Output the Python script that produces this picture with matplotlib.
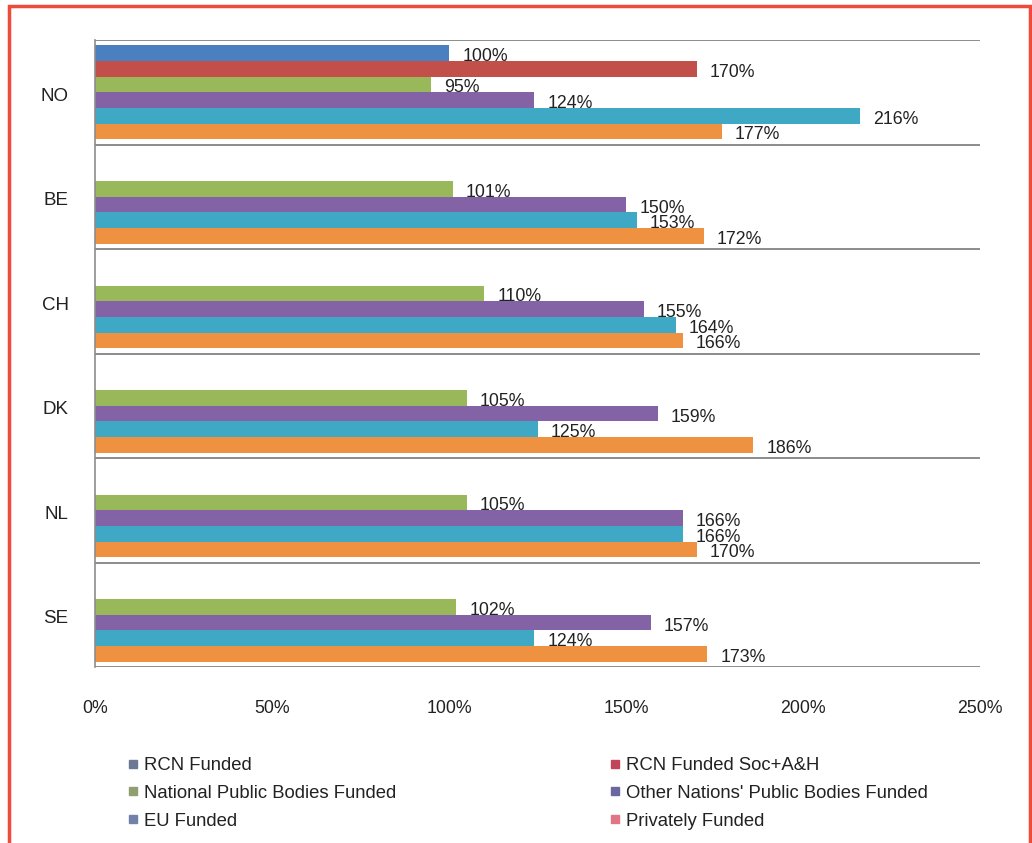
import matplotlib
matplotlib.use("Agg")
import matplotlib.pyplot as plt
from matplotlib.lines import Line2D
from matplotlib.patches import Rectangle

plt.rcParams['font.family'] = ['Liberation Sans', 'DejaVu Sans']

# data (values in %)
countries = ['NO', 'BE', 'CH', 'DK', 'NL', 'SE']
series = ['RCN Funded', 'RCN Funded Soc+A&H', 'National Public Bodies Funded',
          "Other Nations' Public Bodies Funded", 'EU Funded', 'Privately Funded']
rcn = [100, None, None, None, None, None]
rcn_soc = [170, None, None, None, None, None]
national = [95, 101, 110, 105, 105, 102]
other_nations = [124, 150, 155, 159, 166, 157]
eu = [216, 153, 164, 125, 166, 124]
private = [177, 172, 166, 186, 170, 173]
values = [rcn, rcn_soc, national, other_nations, eu, private]

bar_colors = ['#4a7fc0', '#c24f4a', '#98b85a', '#8363a6', '#3fa8c4', '#ee9242']
legend_colors = ['#6b7893', '#c0455a', '#909f70', '#6c679e', '#7281aa', '#e27585']
xticks = [0, 50, 100, 150, 200, 250]

fig = plt.figure(figsize=(10.32, 8.43), dpi=100)
ax = fig.add_axes([95 / 1032, 1 - 667 / 843, 885 / 1032, 627 / 843])

bar_h = 0.15
top_pad = 0.05
for k, (vals, col) in enumerate(zip(values, bar_colors)):
    for i, v in enumerate(vals):
        if v is None:
            continue
        y = i + top_pad + bar_h * (k + 0.5)
        ax.barh(y, v, height=bar_h, color=col, edgecolor='none')
        ax.annotate(f'{v}%', (v, y), xytext=(9.5, -2.5), textcoords='offset points',
                    ha='left', va='center', fontsize=12.8, color='#222222')

# separator lines between groups
for i in range(len(countries) + 1):
    ax.axhline(i, color='#8c8c8c', lw=1.4)

ax.set_xlim(0, 250)
ax.set_ylim(len(countries), 0)
ax.set_xticks(xticks)
ax.set_xticklabels([f'{t}%' for t in xticks], fontsize=12.8, color='#222222')
ax.set_yticks([i + 0.52 for i in range(len(countries))])
ax.set_yticklabels(countries, fontsize=13.5, color='#222222')
ax.tick_params(axis='both', length=0)
ax.tick_params(axis='x', pad=24)
ax.tick_params(axis='y', pad=19)
for s in ['top', 'right', 'bottom']:
    ax.spines[s].set_visible(False)
ax.spines['left'].set_color('#8c8c8c')
ax.spines['left'].set_linewidth(1.2)

# legend in two columns
handles = [Line2D([], [], marker='s', ls='none', markersize=6, color=c) for c in legend_colors]
order_cols = [[0, 2, 4], [1, 3, 5]]
anchors = [118 / 1032, 600 / 1032]
for idx, xa in zip(order_cols, anchors):
    leg = fig.legend([handles[j] for j in idx], [series[j] for j in idx],
                     loc='upper left', bbox_to_anchor=(xa, 1 - 748 / 843),
                     frameon=False, fontsize=13.3, handlelength=0.6,
                     handletextpad=0.3, labelspacing=0.58, borderpad=0)
    for t in leg.get_texts():
        t.set_color('#222222')

# red frame around the figure
fig.patches.append(Rectangle((9 / 1032, -0.01), 1021 / 1032, 1 - 6 / 843 + 0.01,
                             transform=fig.transFigure, fill=False,
                             edgecolor='#f04a3a', lw=2.5))

fig.savefig('out.png', dpi=100)
